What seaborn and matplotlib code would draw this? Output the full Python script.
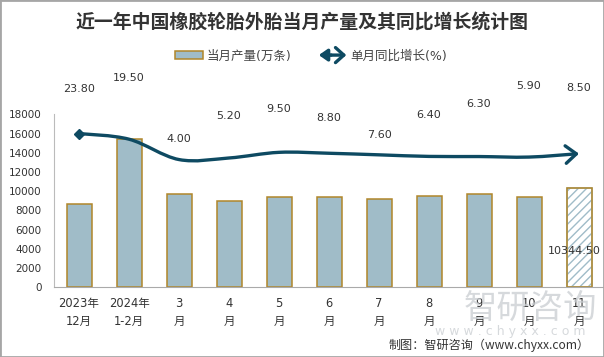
import numpy as np
import matplotlib
matplotlib.use("Agg")
import matplotlib.pyplot as plt
import seaborn as sns
from matplotlib.path import Path
from matplotlib.patches import FancyArrowPatch, Rectangle, Patch
from matplotlib.legend_handler import HandlerBase
from matplotlib.lines import Line2D

# data
months = ["2023年\n12月", "2024年\n1-2月", "3\n月", "4\n月", "5\n月", "6\n月",
          "7\n月", "8\n月", "9\n月", "10\n月", "11\n月"]
output = [8700, 15400, 9750, 9020, 9360, 9360, 9150, 9540, 9750, 9430, 10344.5]
yoy = [23.8, 19.5, 4.0, 5.2, 9.5, 8.8, 7.6, 6.4, 6.3, 5.9, 8.5]
# where the percent labels sit (axes fraction), as placed in the original
yoy_label_pos = [1.147, 1.212, 0.857, 0.990, 1.031, 0.979, 0.880, 0.996, 1.060, 1.164, 1.153]

bar_color = "#A0BCC8"
edge_color = "#B0862A"
line_color = "#0E4A62"

sns.set_style("white")
plt.rcParams["font.family"] = ["DejaVu Sans", "Noto Sans CJK SC"]

fig = plt.figure(figsize=(6.04, 3.57), dpi=100)
ax = fig.add_axes([54 / 604, 70 / 357, 550 / 604, 172.5 / 357])

sns.barplot(x=months, y=output, color=bar_color, width=0.5, edgecolor=edge_color,
            linewidth=1.1, saturation=1, ax=ax)

# last month is hatched
last = ax.patches[-1]
last.set_facecolor("white")
last.set_edgecolor(bar_color)
last.set_hatch("////")
ax.add_patch(Rectangle((last.get_x(), last.get_y()), last.get_width(), last.get_height(),
                       fill=False, edgecolor=edge_color, linewidth=1.1))
ax.text(len(months) - 1.1, 3800, f"{output[-1]:.2f}", ha="center", va="center",
        fontsize=8, color="#333333")

ax.set_ylim(0, 18000)
ax.set_yticks(range(0, 18001, 2000))
ax.set_xlim(-0.5, len(months) - 0.5)
ax.tick_params(axis="y", length=0, pad=9, labelsize=7.5, labelcolor="#333333")
ax.tick_params(axis="x", length=0, pad=7, labelsize=8.3, labelcolor="#333333")
for lab in ax.get_xticklabels():
    lab.set_linespacing(1.5)
ax.set_xlabel("")
ax.set_ylabel("")
for s in ["top", "right"]:
    ax.spines[s].set_visible(False)
ax.spines["left"].set_color("#BBBBBB")
ax.spines["bottom"].set_color("#AAAAAA")

# smoothed growth line on a hidden secondary axis
ax2 = ax.twinx()
ax2.set_ylim(-93, 38.3)
ax2.axis("off")
xs = np.arange(len(yoy), dtype=float)
ys = np.array(yoy, dtype=float)
pts = np.column_stack([xs, ys])
ext = np.vstack([pts[0], pts, pts[-1]])
verts = [tuple(pts[0])]
codes = [Path.MOVETO]
for i in range(len(pts) - 1):
    p0, p1, p2, p3 = ext[i], ext[i + 1], ext[i + 2], ext[i + 3]
    c1 = p1 + (p2 - p0) / 6
    c2 = p2 - (p3 - p1) / 6
    verts += [tuple(c1), tuple(c2), tuple(p2)]
    codes += [Path.CURVE4] * 3
arrow = FancyArrowPatch(path=Path(verts, codes), arrowstyle="->,head_length=0.55,head_width=0.45",
                        mutation_scale=14, color=line_color, linewidth=2.4)
ax2.add_patch(arrow)
ax2.plot(xs[0], ys[0], marker="D", ms=5, color=line_color)

for i, v in enumerate(yoy):
    ax.text(i, yoy_label_pos[i], f"{v:.2f}", transform=ax.get_xaxis_transform(),
            ha="center", va="center", fontsize=8, color="#333333", clip_on=False)

# title and legend
fig.text(0.5, 1 - 23 / 357, "近一年中国橡胶轮胎外胎当月产量及其同比增长统计图",
         ha="center", va="center", fontsize=13.6, fontweight="bold",
         family=["Noto Sans CJK SC"], color="#333333")


class HandlerArrow(HandlerBase):
    def create_artists(self, legend, orig_handle, xdescent, ydescent, width, height,
                       fontsize, trans):
        y = height / 2 - ydescent
        x0 = -xdescent
        mid = x0 + width * 0.45
        left = FancyArrowPatch((mid, y), (x0, y), arrowstyle="-|>,head_length=0.5,head_width=0.35",
                               mutation_scale=10, color=line_color, linewidth=2.4,
                               shrinkA=0, shrinkB=0, transform=trans)
        right = FancyArrowPatch((mid, y), (x0 + width, y), arrowstyle="->,head_length=0.5,head_width=0.45",
                                mutation_scale=12, color=line_color, linewidth=2.4,
                                shrinkA=0, shrinkB=0, transform=trans)
        return [left, right]


bar_handle = Patch(facecolor=bar_color, edgecolor=edge_color, linewidth=1.1)
line_handle = Line2D([], [], color=line_color)
fig.legend([bar_handle, line_handle], ["当月产量(万条)", "单月同比增长(%)"],
           handler_map={Line2D: HandlerArrow()},
           loc="center", bbox_to_anchor=(0.515, 1 - 56 / 357), ncol=2, frameon=False,
           fontsize=9, handlelength=2.2, handleheight=0.6, handletextpad=0.3,
           columnspacing=2.2, labelcolor="#444444")

# watermark and source
fig.text(530 / 604, 1 - 308 / 357, "智研咨询", ha="center", va="center", fontsize=24,
         family=["Noto Sans CJK SC"], color="#C9CDD1", alpha=0.75)
fig.text(510 / 604, 1 - 331 / 357, "w w w . c h y x x . c o m", ha="center", va="center",
         fontsize=9, color="#C9CDD1", alpha=0.75)
fig.text(590 / 604, 1 - 345 / 357, "制图：智研咨询（www.chyxx.com）", ha="right", va="center",
         fontsize=8.7, color="#333333", family=["Noto Sans CJK SC", "DejaVu Sans"])

fig.add_artist(Rectangle((0, 0), 1, 1, transform=fig.transFigure, fill=False,
                         edgecolor="#A6A6A6", linewidth=2))

fig.savefig("out.png", dpi=100)
